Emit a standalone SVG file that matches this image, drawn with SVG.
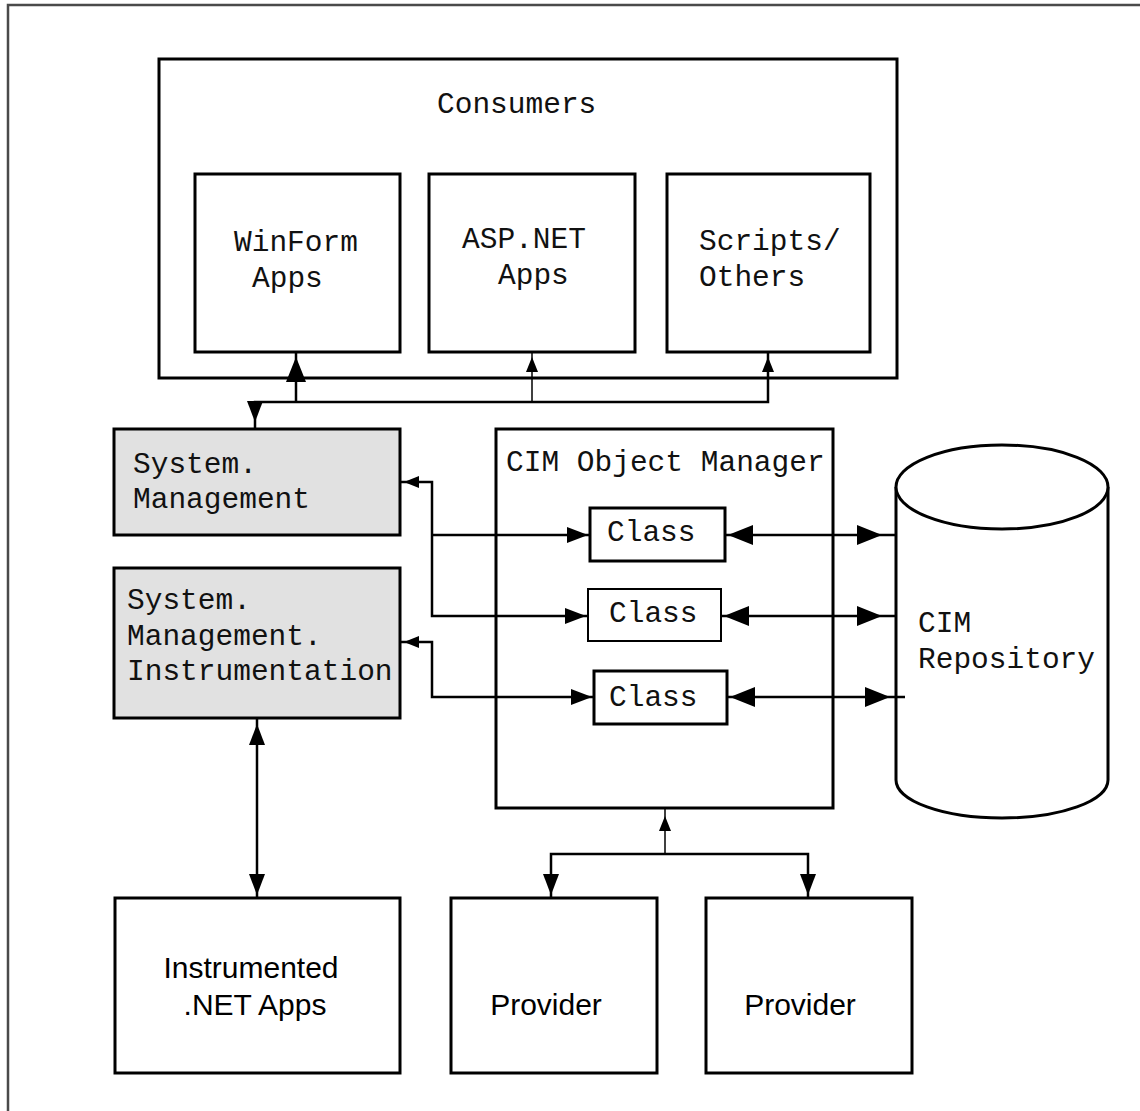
<svg xmlns="http://www.w3.org/2000/svg" xmlns:xlink="http://www.w3.org/1999/xlink" width="1140" height="1111" viewBox="0 0 1140 1111">
  <style>
    .box { fill: #ffffff; stroke: #000; stroke-width: 3; }
    .thin { fill: #ffffff; stroke: #000; stroke-width: 2; }
    .ns { fill: #e1e1e1; stroke: #000; stroke-width: 3; }
    .mono { font-family: "Liberation Mono", "Courier New", monospace; font-size: 29.5px; fill: #111; }
    .sans { font-family: "Liberation Sans", Arial, sans-serif; font-size: 30px; fill: #000; }
    .wire { fill: none; stroke: #000; stroke-width: 2.5; }
    .wire-thin { fill: none; stroke: #000; stroke-width: 1.5; }
    .head { fill: #000; }
  </style>
  <defs>
    <!-- arrowheads point along +x with the tip at the origin -->
    <path id="ahL" class="head" d="M0,0 L-25,-10 L-25,10 Z"/>
    <path id="ahM" class="head" d="M0,0 L-21,-8 L-21,8 Z"/>
    <path id="ahS" class="head" d="M0,0 L-15,-6 L-15,6 Z"/>
  </defs>

  <rect width="1140" height="1111" fill="#ffffff"/>
  <!-- page frame -->
  <path d="M8,1111 V5 H1140" fill="none" stroke="#4a4a4a" stroke-width="2.5"/>

  <g id="consumers">
    <rect class="box" x="159" y="59" width="738" height="319"/>
    <text class="mono" x="437" y="113">Consumers</text>
  </g>
  <g id="winform-apps">
    <rect class="box" x="195" y="174" width="205" height="178"/>
    <text class="mono" x="234" y="251">WinForm</text>
    <text class="mono" x="252" y="287">Apps</text>
  </g>
  <g id="aspnet-apps">
    <rect class="box" x="429" y="174" width="206" height="178"/>
    <text class="mono" x="462" y="248">ASP.NET</text>
    <text class="mono" x="498" y="284">Apps</text>
  </g>
  <g id="scripts-others">
    <rect class="box" x="667" y="174" width="203" height="178"/>
    <text class="mono" x="699" y="250">Scripts/</text>
    <text class="mono" x="699" y="286">Others</text>
  </g>

  <g id="system-management">
    <rect class="ns" x="114" y="429" width="286" height="106"/>
    <text class="mono" x="133" y="473">System.</text>
    <text class="mono" x="133" y="508">Management</text>
  </g>
  <g id="system-management-instrumentation">
    <rect class="ns" x="114" y="568" width="286" height="150"/>
    <text class="mono" x="127" y="609">System.</text>
    <text class="mono" x="127" y="645">Management.</text>
    <text class="mono" x="127" y="680">Instrumentation</text>
  </g>

  <g id="cim-object-manager">
    <rect class="box" x="496" y="429" width="337" height="379"/>
    <text class="mono" x="506" y="471">CIM Object Manager</text>
  </g>
  <g id="class-1">
    <rect class="box" x="590" y="508" width="135" height="53"/>
    <text class="mono" x="607" y="541">Class</text>
  </g>
  <g id="class-2">
    <rect class="thin" x="588" y="589" width="133" height="52"/>
    <text class="mono" x="609" y="622">Class</text>
  </g>
  <g id="class-3">
    <rect class="box" x="594" y="671" width="133" height="53"/>
    <text class="mono" x="609" y="706">Class</text>
  </g>

  <g id="cim-repository">
    <path d="M896,487 V780 A106,38 0 0 0 1108,780 V487" fill="#ffffff" stroke="#000" stroke-width="3"/>
    <ellipse cx="1002" cy="487" rx="106" ry="42" fill="#ffffff" stroke="#000" stroke-width="3"/>
    <text class="mono" x="918" y="632">CIM</text>
    <text class="mono" x="918" y="668">Repository</text>
  </g>

  <g id="instrumented-net-apps">
    <rect class="box" x="115" y="898" width="285" height="175"/>
    <text class="sans" x="251" y="978" text-anchor="middle">Instrumented</text>
    <text class="sans" x="255" y="1015" text-anchor="middle">.NET Apps</text>
  </g>
  <g id="provider-1">
    <rect class="box" x="451" y="898" width="206" height="175"/>
    <text class="sans" x="546" y="1015" text-anchor="middle">Provider</text>
  </g>
  <g id="provider-2">
    <rect class="box" x="706" y="898" width="206" height="175"/>
    <text class="sans" x="800" y="1015" text-anchor="middle">Provider</text>
  </g>

  <g id="connectors">
    <!-- consumers bus -->
    <path class="wire" d="M255,429 V402 H768 V352"/>
    <path class="wire" d="M296,402 V352"/>
    <path class="wire-thin" d="M532,402 V352"/>
    <use xlink:href="#ahL" transform="translate(296,357) rotate(-90)"/>
    <use xlink:href="#ahS" transform="translate(532,357) rotate(-90)"/>
    <use xlink:href="#ahS" transform="translate(768,357) rotate(-90)"/>
    <use xlink:href="#ahM" transform="translate(255,422) rotate(90)"/>

    <!-- System.Management to classes -->
    <path class="wire" d="M400,482 H432 V616 H588"/>
    <path class="wire" d="M432,535 H590"/>
    <path class="wire" d="M400,642 H432 V697 H594"/>
    <use xlink:href="#ahS" transform="translate(404,482) rotate(180)"/>
    <use xlink:href="#ahS" transform="translate(404,642) rotate(180)"/>
    <use xlink:href="#ahM" transform="translate(588,535)"/>
    <use xlink:href="#ahM" transform="translate(586,616)"/>
    <use xlink:href="#ahM" transform="translate(592,697)"/>

    <!-- classes to repository -->
    <path class="wire" d="M725,535 H896"/>
    <path class="wire" d="M721,616 H896"/>
    <path class="wire" d="M727,697 H905"/>
    <use xlink:href="#ahL" transform="translate(728,535) rotate(180)"/>
    <use xlink:href="#ahL" transform="translate(724,616) rotate(180)"/>
    <use xlink:href="#ahL" transform="translate(730,697) rotate(180)"/>
    <use xlink:href="#ahL" transform="translate(882,535)"/>
    <use xlink:href="#ahL" transform="translate(882,616)"/>
    <use xlink:href="#ahL" transform="translate(890,697)"/>

    <!-- object manager to providers -->
    <path class="wire-thin" d="M665,808 V854"/>
    <path class="wire" d="M551,898 V854 H808 V898"/>
    <use xlink:href="#ahS" transform="translate(665,816) rotate(-90)"/>
    <use xlink:href="#ahM" transform="translate(551,895) rotate(90)"/>
    <use xlink:href="#ahM" transform="translate(808,895) rotate(90)"/>

    <!-- instrumentation to instrumented apps -->
    <path class="wire" d="M257,718 V898"/>
    <use xlink:href="#ahM" transform="translate(257,724) rotate(-90)"/>
    <use xlink:href="#ahM" transform="translate(257,895) rotate(90)"/>
  </g>
</svg>
